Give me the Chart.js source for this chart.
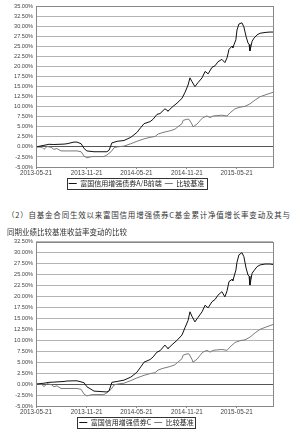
<!DOCTYPE html>
<html>
<head>
<meta charset="utf-8">
<script src="https://cdn.jsdelivr.net/npm/chart.js@4/dist/chart.umd.min.js"></script>
<style>
  html, body { margin: 0; padding: 0; background: #fff; overflow: hidden; }
  body { width: 300px; height: 432px; position: relative; }
  canvas { position: absolute; left: 0; }
  .cap { position: absolute; left: 7px; font-family: "Noto Sans CJK SC", sans-serif; font-size: 7.5px; line-height: 10px; color: #333; z-index: 2; white-space: nowrap; }
  #cap1 { top: 210px; width: 283px; text-align: justify; text-align-last: justify; }
  #cap2 { top: 227px; }
</style>
</head>
<body>
<canvas id="chart1" width="300" height="197" style="top:0px"></canvas>
<div class="cap" id="cap1">（2）自基金合同生效以来富国信用增强债券C基金累计净值增长率变动及其与</div>
<div class="cap" id="cap2">同期业绩比较基准收益率变动的比较</div>
<canvas id="chart2" width="300" height="208" style="top:228px"></canvas>
<script>
// x values are days since 2013-05-21
const tickDays = [0, 184, 365, 549, 730];
const tickLabels = ['2013-05-21', '2013-11-21', '2014-05-21', '2014-11-21', '2015-05-21'];

const fundDays = [0, 29, 47, 65, 102, 113, 138, 149, 164, 175, 185, 211, 258, 266, 276, 295, 320, 345, 367, 382,
  393, 415, 426, 440, 451, 469, 477, 480, 495, 513, 531, 542, 553, 560, 567, 578, 589, 604, 615, 626,
  640, 651, 662, 676, 687, 695, 702, 713, 716, 727, 731, 738, 749, 756, 764, 771, 775, 778, 786, 793,
  804, 815, 833, 851, 862];
const fundA = [0.0, 0.4, 0.65, 0.6, 0.7, 0.8, 1.2, 1.2, 0.8, -0.4, -1.0, -1.2, -1.2, -0.8, 1.0, 1.4, 1.6, 2.4, 3.6, 4.9,
  5.8, 6.3, 6.9, 8.1, 8.3, 9.5, 9.1, 8.9, 9.9, 10.9, 12.1, 13.6, 15.4, 17.2, 16.3, 15.0, 16.0, 17.2, 18.8, 18.2,
  19.8, 20.2, 21.2, 21.8, 21.0, 22.2, 24.3, 25.1, 24.7, 26.7, 29.1, 30.6, 30.9, 29.9, 27.5, 25.9, 25.5, 23.9, 26.3, 27.1,
  27.9, 28.3, 28.5, 28.6, 28.6];
const fundC = [0.0, 0.2, 0.4, 0.45, 0.6, 0.7, 0.75, 0.75, 0.5, 0.3, -0.6, -1.6, -1.8, -1.5, 0.4, 0.6, 0.9, 1.6, 2.7, 4.0,
  5.0, 5.6, 6.2, 7.3, 7.6, 8.9, 8.3, 8.1, 9.0, 10.0, 11.2, 12.9, 14.5, 16.5, 15.5, 14.2, 15.2, 16.5, 18.0, 17.4,
  18.8, 19.3, 20.3, 21.1, 19.9, 21.3, 23.4, 23.9, 23.6, 26.0, 27.8, 29.5, 30.0, 29.1, 26.5, 24.9, 24.6, 22.6, 25.3, 25.9,
  26.8, 27.2, 27.4, 27.4, 27.3];

const benchDays = [0, 22, 29, 40, 55, 65, 76, 91, 113, 149, 164, 175, 185, 204, 247, 258, 273, 284, 295, 320,
  345, 367, 393, 415, 433, 444, 462, 487, 505, 516, 531, 535, 549, 556, 567, 571, 586, 596, 607, 622,
  633, 644, 658, 676, 695, 706, 724, 742, 760, 778, 797, 815, 840, 862];
const bench = [0.0, -0.1, -0.6, 0.1, -0.1, -0.6, -0.4, -1.0, -1.0, -1.0, -1.2, -2.3, -2.7, -2.4, -2.4, -2.0, -1.2, -0.2, 0.0, 0.2,
  0.8, 1.4, 2.0, 2.4, 2.6, 3.2, 3.6, 4.0, 4.4, 5.0, 5.8, 6.6, 6.9, 6.9, 5.7, 5.0, 5.7, 6.5, 7.3, 7.7,
  7.3, 7.7, 7.8, 7.9, 7.7, 8.5, 9.5, 9.9, 10.1, 10.7, 11.7, 12.5, 13.1, 13.6];

const pts = (xs, ys) => xs.map((x, i) => ({x: x, y: ys[i]}));

const framePlugin = {
  id: 'frame',
  afterDraw(chart) {
    const ctx = chart.ctx;
    const a = chart.chartArea;
    ctx.save();
    ctx.strokeStyle = '#888';
    ctx.lineWidth = 1;
    ctx.strokeRect(Math.round(a.left) + 0.5, Math.round(a.top) + 0.5,
      Math.round(a.right - a.left), Math.round(a.bottom - a.top));
    // box round the legend
    const boxes = chart.legend.legendHitBoxes;
    if (boxes && boxes.length) {
      const l = Math.min(...boxes.map(b => b.left)) - 2;
      const r = Math.max(...boxes.map(b => b.left + b.width)) + 2;
      const t = Math.min(...boxes.map(b => b.top)) - 2;
      const btm = Math.max(...boxes.map(b => b.top + b.height)) + 2;
      ctx.strokeStyle = '#333';
      ctx.strokeRect(Math.round(l) + 0.5, Math.round(t) + 0.5, Math.round(r - l), Math.round(btm - t));
    }
    ctx.restore();
  }
};

const makeChart = (id, fundLabel, fundData, yMax, padTop) => {
  const ctx = document.getElementById(id).getContext('2d');
  return new Chart(ctx, {
    type: 'line',
    data: {
      datasets: [{
        label: fundLabel,
        data: pts(fundDays, fundData),
        borderColor: '#111',
        borderWidth: 1,
        pointRadius: 0,
        pointStyle: 'line',
        tension: 0
      }, {
        label: '比较基准',
        data: pts(benchDays, bench),
        borderColor: '#7a7a7a',
        borderWidth: 1,
        pointRadius: 0,
        pointStyle: 'line',
        tension: 0
      }]
    },
    options: {
      responsive: false,
      animation: false,
      devicePixelRatio: 1,
      layout: { autoPadding: false, padding: { left: 0, right: 27, top: padTop, bottom: 0 } },
      plugins: {
        tooltip: { enabled: false },
        legend: {
          position: 'bottom',
          labels: {
            usePointStyle: true,
            pointStyle: 'line',
            pointStyleWidth: 8,
            padding: 3,
            color: '#222',
            font: { family: '"Noto Sans CJK SC", sans-serif', size: 7 }
          }
        }
      },
      scales: {
        x: {
          type: 'linear',
          min: 0,
          max: 862,
          afterBuildTicks: (axis) => { axis.ticks = tickDays.map(v => ({value: v})); },
          afterFit: (axis) => { axis.height = 10; },
          border: { display: false },
          grid: { drawOnChartArea: false, tickLength: 2, color: '#888' },
          ticks: {
            autoSkip: false,
            maxRotation: 0,
            padding: 0,
            color: '#444',
            font: { family: '"Liberation Sans", sans-serif', size: 6.3 },
            callback: (v) => tickLabels[tickDays.indexOf(v)]
          }
        },
        y: {
          min: -5,
          max: yMax,
          afterFit: (axis) => { axis.width = 36; },
          border: { display: false },
          grid: {
            drawTicks: false,
            lineWidth: 1,
            color: (c) => c.tick.value === 0 ? '#555' : '#b4b4b4',
            borderDash: [1, 1.5]
          },
          ticks: {
            stepSize: 2.5,
            padding: 3,
            color: '#444',
            font: { family: '"Liberation Sans", sans-serif', size: 5.6 },
            callback: (v) => v.toFixed(2) + '%'
          }
        }
      }
    },
    plugins: [framePlugin]
  });
};

makeChart('chart1', '富国信用增强债券A/B前端', fundA, 35, 2.5);
makeChart('chart2', '富国信用增强债券C', fundC, 32.5, 13.7);
</script>
</body>
</html>
